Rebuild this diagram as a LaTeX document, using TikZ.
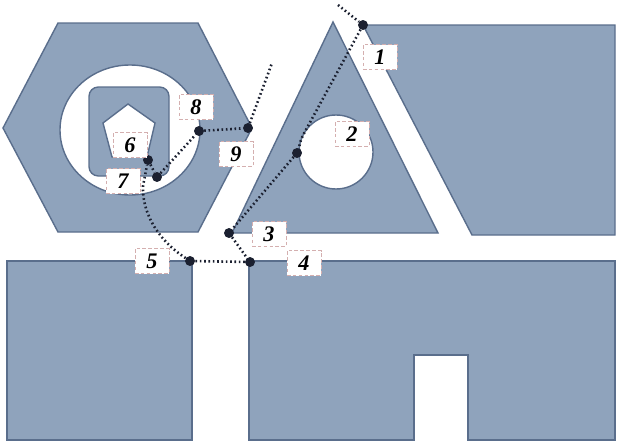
\documentclass[tikz,border=0pt]{standalone}
\usepackage{fontspec}
\setmainfont{Liberation Serif}
\definecolor{gsfill}{HTML}{8FA3BC}
\definecolor{gsedge}{HTML}{5A6E8C}
\definecolor{gspath}{HTML}{1B2030}
\definecolor{gsbox}{HTML}{D4AFAF}
\tikzset{
  region/.style={fill=gsfill,draw=gsedge,line width=1.2pt,even odd rule},
  trail/.style={draw=gspath,line width=2.2pt,dash pattern=on 1.4pt off 2.3pt},
  vertex/.style={circle,fill=gspath,inner sep=0pt,minimum size=8.5pt},
  tag/.style={rectangle,fill=white,draw=gsbox,densely dashed,line width=.4pt,minimum width=1.02cm,minimum height=.75cm,inner sep=0pt,font=\fontsize{19}{19}\selectfont\bfseries\itshape},
}

\begin{document}
\begin{tikzpicture}[x=0.03cm,y=-0.03cm]
  \path[use as bounding box] (0,0) rectangle (617,445);
  \path[region] (58,23) -- (198,23) -- (252,128) -- (198,232) -- (58,232) -- (3,128) -- cycle
    (130,130) ellipse [x radius=70,y radius=65];
  \path[region] [rounded corners=8pt] (89,87) rectangle (169,176)
    [sharp corners] (128,104) -- (155,123) -- (147,157) -- (112,157) -- (103,123) -- cycle;
  \path[region] (333,22) -- (438,233) -- (232,233) -- cycle (336,152) circle [radius=37];
  \path[region] (363,25) -- (615,25) -- (615,235) -- (472,235) -- cycle;
  \path[region] (7,261) rectangle (192,440);
  \path[region] (249,261) -- (615,261) -- (615,440) -- (468,440) -- (468,355) -- (414,355) -- (414,440) -- (249,440) -- cycle;

  \node[vertex] (p1) at (363,25) {};
  \node[vertex] (p2) at (297,153) {};
  \node[vertex] (p3) at (229,233) {};
  \node[vertex] (p4) at (250,262) {};
  \node[vertex] (p5) at (190,261) {};
  \node[vertex] (p6) at (148,160) {};
  \node[vertex] (p7) at (157,177) {};
  \node[vertex] (p8) at (199,131) {};
  \node[vertex] (p9) at (248,128) {};
  \coordinate (e1) at (338,5);
  \coordinate (e9) at (272,63);
  \coordinate (t2) at (303.5,134.3);
  \coordinate (b6) at (143,186);

  \draw[trail] (e1) -- (p1) -- (t2) arc [start angle=209,end angle=180,radius=37] -- (p2);
  \draw[trail] (p2) -- (p3) -- (p4) -- (p5);
  \draw[trail] (p5) .. controls (155,238) and (142,210) .. (b6) -- (p6);
  \draw[trail] (p6) -- (p7) -- (p8) -- (p9) -- (e9);

  \node[tag] (l1) at (380,57) {1};
  \node[tag] (l2) at (352,134) {2};
  \node[tag] (l3) at (269,234) {3};
  \node[tag] (l4) at (304,263) {4};
  \node[tag] (l5) at (152,261) {5};
  \node[tag] (l6) at (130,145) {6};
  \node[tag] (l7) at (123,181) {7};
  \node[tag] (l8) at (196,107) {8};
  \node[tag] (l9) at (236,154) {9};
\end{tikzpicture}
\end{document}
